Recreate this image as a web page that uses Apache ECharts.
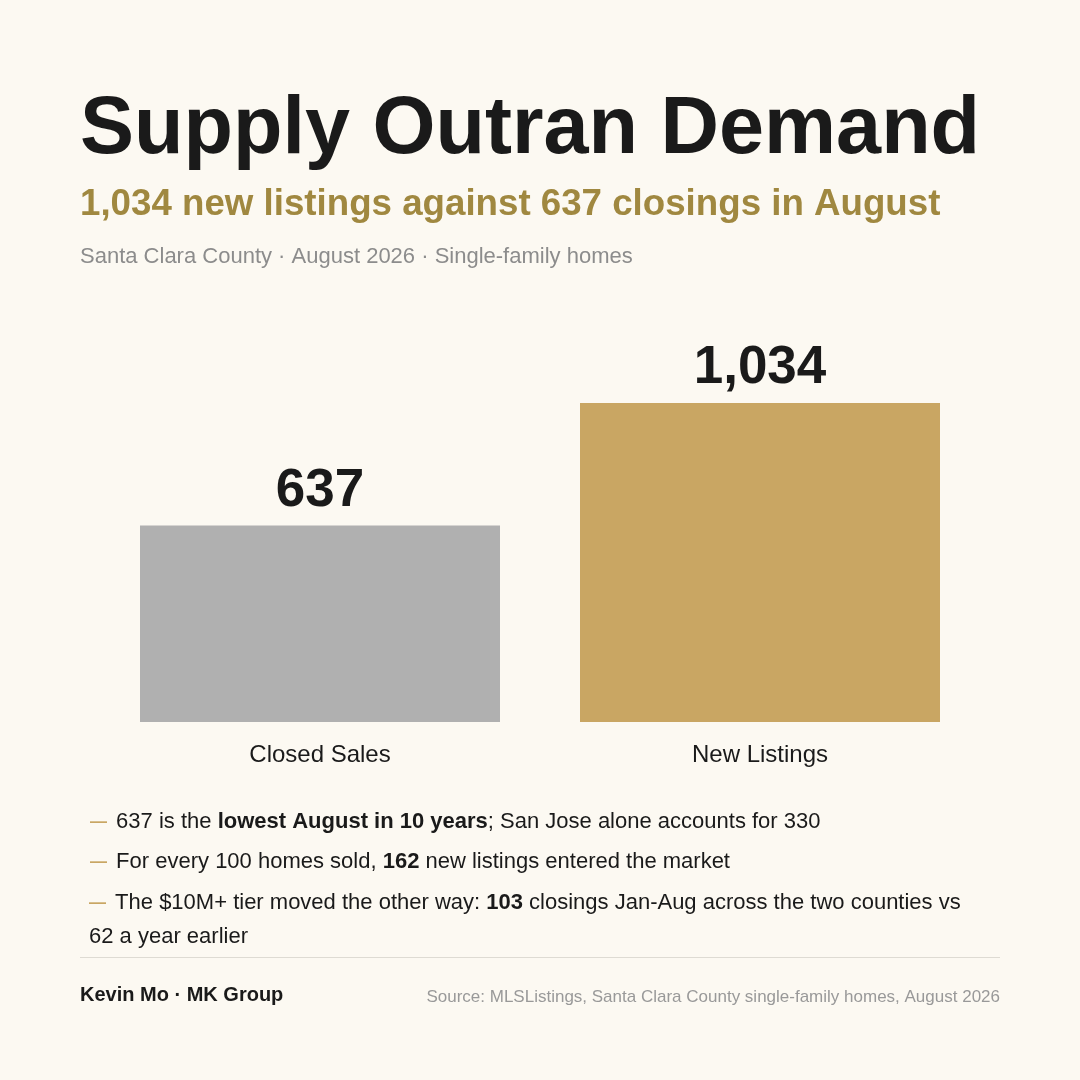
<!DOCTYPE html>
<html>
<head>
<meta charset="utf-8">
<script src="https://cdn.jsdelivr.net/npm/echarts@6/dist/echarts.min.js"></script>
<style>
  html, body { margin: 0; padding: 0; background: #fcf9f2; }
  #main { width: 1080px; height: 1080px; }
</style>
</head>
<body>
<div id="main"></div>
<script>
// chart data
const categories = ["Closed Sales", "New Listings"];
const values = [637, 1034];
const barColors = ["#b0b0b0", "#c9a663"];

const FONT = "'Liberation Sans', Arial, Helvetica, sans-serif";
const INK = "#1a1a1a";
const GOLD = "#c9a663";

// rich styles shared by the bullet notes
const noteRich = {
  d: { fill: GOLD, font: "bold 17px " + FONT, lineHeight: 34, padding: [0, 3, 0, 0] },
  b: { font: "bold 22px " + FONT, fill: INK, lineHeight: 34 },
};

let myChart = echarts.init(document.getElementById("main"));

let options = {
  backgroundColor: "#fcf9f2",
  textStyle: { fontFamily: FONT },
  grid: { left: 100, right: 100, top: 403, bottom: 358 },
  xAxis: {
    type: "category",
    data: categories,
    axisLine: { show: false },
    axisTick: { show: false },
    axisLabel: { color: INK, fontSize: 24, margin: 21, fontFamily: FONT },
  },
  yAxis: { type: "value", min: 0, max: 1034, show: false, splitLine: { show: false } },
  series: [
    {
      type: "bar",
      barWidth: 360,
      data: values.map((v, i) => ({ value: v, itemStyle: { color: barColors[i] } })),
      label: {
        show: true,
        position: "top",
        distance: 8,
        fontSize: 53,
        fontWeight: "bold",
        color: INK,
        fontFamily: FONT,
        formatter: (p) => p.value.toLocaleString("en-US"),
      },
      silent: true,
    },
  ],
  graphic: [
    { type: "text", x: 80, y: 131, style: { text: "Supply Outran Demand", font: "bold 81px " + FONT, fill: INK, verticalAlign: "middle" } },
    { type: "text", x: 80, y: 205, style: { text: "1,034 new listings against 637 closings in August", font: "bold 36.7px " + FONT, fill: "#a08840", verticalAlign: "middle" } },
    { type: "text", x: 80, y: 257, style: { text: "Santa Clara County · August 2026 · Single-family homes", font: "22px " + FONT, fill: "#8c8c8c", verticalAlign: "middle" } },
    {
      type: "text", x: 90, y: 822,
      style: {
        text: "{d|—} 637 is the {b|lowest August in 10 years}; San Jose alone accounts for 330",
        font: "22px " + FONT, fill: INK, verticalAlign: "middle", lineHeight: 34, rich: noteRich,
      },
    },
    {
      type: "text", x: 90, y: 862,
      style: {
        text: "{d|—} For every 100 homes sold, {b|162} new listings entered the market",
        font: "22px " + FONT, fill: INK, verticalAlign: "middle", lineHeight: 34, rich: noteRich,
      },
    },
    {
      type: "text", x: 89, y: 920,
      style: {
        text: "{d|—} The $10M+ tier moved the other way: {b|103} closings Jan-Aug across the two counties vs\n62 a year earlier",
        font: "22px " + FONT, fill: INK, verticalAlign: "middle", lineHeight: 34, rich: noteRich,
      },
    },
    { type: "line", shape: { x1: 80, y1: 957.5, x2: 1000, y2: 957.5 }, style: { stroke: "#dedbd3", lineWidth: 1 } },
    { type: "text", x: 80, y: 995, style: { text: "Kevin Mo · MK Group", font: "bold 20px " + FONT, fill: INK, verticalAlign: "middle" } },
    { type: "text", x: 1000, y: 997, style: { text: "Source: MLSListings, Santa Clara County single-family homes, August 2026", font: "17px " + FONT, fill: "#999999", align: "right", verticalAlign: "middle" } },
  ],
};

myChart.setOption(options);
</script>
</body>
</html>
